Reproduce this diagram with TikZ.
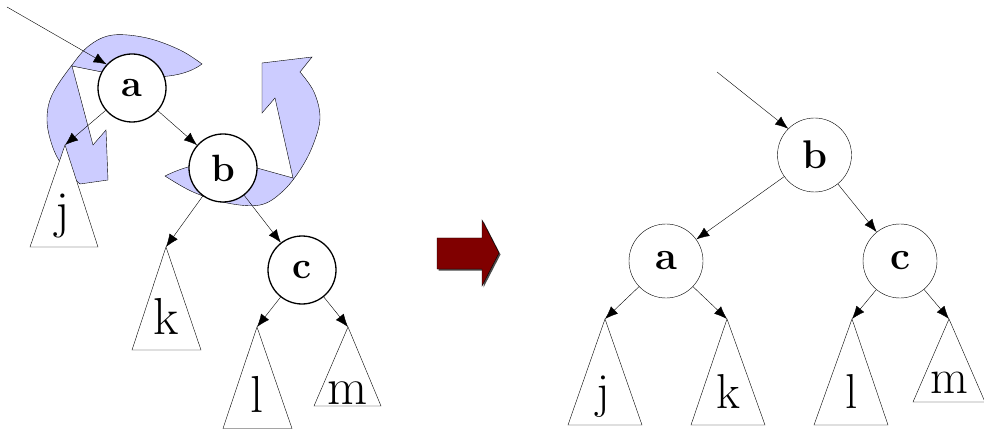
\documentclass[tikz,border=0pt]{standalone}
\usetikzlibrary{arrows.meta}
\pgfdeclarelayer{bg}
\pgfsetlayers{bg,main}
\definecolor{lav}{RGB}{204,204,255}
\definecolor{dred}{RGB}{128,0,0}
\begin{document}
\begin{tikzpicture}[x=1pt,y=-1pt,line width=1.3pt,
  arr/.style={-{Latex[length=13pt,width=10pt]}},
  nodeL/.style={circle,draw,fill=white,minimum size=68pt,inner sep=0pt,font=\fontsize{38}{38}\selectfont\bfseries},
  nodeR/.style={circle,draw,fill=white,minimum size=74pt,inner sep=0pt,font=\fontsize{40}{40}\selectfont\bfseries},
  leafL/.style={anchor=base,inner sep=0pt,font=\fontsize{52}{52}\selectfont},
  leafR/.style={anchor=base,inner sep=0pt,font=\fontsize{49}{49}\selectfont},
  tri/.style={draw,fill=white,line join=miter},
  rot/.style={draw,fill=lav,line join=miter}]
\useasboundingbox (0,0) rectangle (984,430);

% ---------- left tree ----------
\node[nodeL] (a) at (132,88) {a};
\node[nodeL] (b) at (223,168) {b};
\node[nodeL] (c) at (302,270) {c};
\coordinate (inA) at (7,7);
\coordinate (jA) at (65,145);
\coordinate (kA) at (166,247);
\coordinate (lA) at (257,327);
\coordinate (mA) at (348,327);

% rotation arrows (behind)
\begin{pgfonlayer}{bg}
\draw[rot] plot[smooth,tension=0.6] coordinates {(202,64) (180,50) (147,38) (113,35) (90,45) (72,65) (52,95) (47,120) (52,145) (62,165) (80,184)}
  -- (108,180) -- (106,130) -- (93,145) -- (72,66) -- (102,72) -- (140,76)
  .. controls (170,79) and (190,73) .. (202,64) -- cycle;
\draw[rot] (165,176) -- plot[smooth,tension=0.6] coordinates {(165,176) (193,192) (227,203) (260,205) (282,192) (300,170) (313,145) (320,118) (314,92) (300,72)}
  -- (312,57) -- (262,63) -- (262,113) -- (275,98) -- (293,178) -- (257,168) -- (225,162)
  .. controls (205,162) and (185,166) .. (165,176) -- cycle;
\end{pgfonlayer}

\draw[arr] (inA) -- (a.137);
\draw[arr] (a) -- (jA);
\draw[arr] (a) -- (b);
\draw[arr] (b) -- (kA);
\draw[arr] (b) -- (c);
\draw[arr] (c) -- (lA);
\draw[arr] (c) -- (mA);

\draw[tri] (jA) -- (98,247) -- (30,247) -- cycle;
\draw[tri] (kA) -- (201,350) -- (132,350) -- cycle;
\draw[tri] (lA) -- (292,428.5) -- (223,428.5) -- cycle;
\draw[tri] (mA) -- (381,406) -- (314,406) -- cycle;

\node[leafL] (tj) at (63,228) {j};
\node[leafL] (tk) at (166,334) {k};
\node[leafL] (tl) at (257,412) {l};
\node[leafL] (tm) at (348,404) {m};

% ---------- middle arrow ----------
\fill[black!70,shift={(1.5,1.5)}] (437,238) -- (482,238) -- (482,220) -- (499,253) -- (482,286) -- (482,269) -- (437,269) -- cycle;
\draw[fill=dred,line join=miter] (437,238) -- (482,238) -- (482,220) -- (499,253) -- (482,286) -- (482,269) -- (437,269) -- cycle;

% ---------- right tree ----------
\node[nodeR] (B) at (814.5,155) {b};
\node[nodeR] (A) at (666,261) {a};
\node[nodeR] (C) at (900,261) {c};
\coordinate (inB) at (717,72);
\coordinate (rj) at (605,319);
\coordinate (rk) at (727,319);
\coordinate (rl) at (852,319);
\coordinate (rm) at (949,319);

\draw[arr] (inB) -- (B.135);
\draw[arr] (B) -- (A);
\draw[arr] (B) -- (C);
\draw[arr] (A) -- (rj);
\draw[arr] (A) -- (rk);
\draw[arr] (C) -- (rl);
\draw[arr] (C) -- (rm);

\draw[tri] (rj) -- (642,425) -- (568,425) -- cycle;
\draw[tri] (rk) -- (765,425) -- (691,425) -- cycle;
\draw[tri] (rl) -- (888,425) -- (814,425) -- cycle;
\draw[tri] (rm) -- (985,402) -- (913,402) -- cycle;

\node[leafR] (uj) at (603,407) {j};
\node[leafR] (uk) at (728,408) {k};
\node[leafR] (ul) at (852,408) {l};
\node[leafR] (um) at (949,393) {m};
\end{tikzpicture}
\end{document}
